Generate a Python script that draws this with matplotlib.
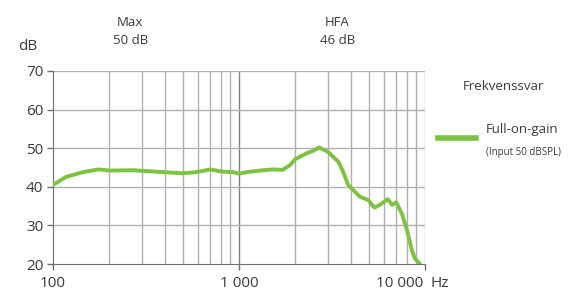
import numpy as np
import matplotlib
matplotlib.use("Agg")
import matplotlib.pyplot as plt
import matplotlib.transforms as mtransforms

# Frequency response (Hz, dB)
freq = [100, 118, 145, 175, 202, 269, 361, 500, 590, 700, 820, 930, 1000,
        1100, 1350, 1520, 1720, 1880, 2000, 2310, 2500, 2700, 3000, 3420,
        3630, 3860, 4200, 4470, 4940, 5350, 5700, 6300, 6670, 7000, 7500,
        8000, 8500, 8800, 9400]
gain = [40.5, 42.6, 43.8, 44.5, 44.2, 44.3, 43.9, 43.5, 43.8, 44.5, 43.9,
        43.8, 43.4, 43.8, 44.3, 44.5, 44.4, 45.6, 47.1, 48.7, 49.3, 50.2,
        49.1, 46.5, 43.9, 40.5, 38.7, 37.4, 36.6, 34.6, 35.3, 36.8, 35.3,
        36.0, 33.1, 28.8, 23.6, 21.5, 20.0]

yticks = [20, 30, 40, 50, 60, 70]
xticks = [100, 1000, 10000]
xticklabels = ["100", "1 000", "10 000"]
minor_x = [200, 300, 400, 500, 600, 700, 800, 900,
           2000, 3000, 4000, 5000, 6000, 7000, 8000, 9000]

# summary labels above the plot, placed at a frequency
summary_labels = ["Max\n50 dB", "HFA\n46 dB"]
summary_freq = [260, 3370]

green = "#7dc242"
txt = "#3a3a3a"
grid_c = "#b0b0b0"

plt.rcParams['font.family'] = ['Open Sans', 'DejaVu Sans']

fig = plt.figure(figsize=(5.7, 2.91), dpi=100)
ax = fig.add_axes([53 / 570, 27 / 291, 372 / 570, 193 / 291])

ax.set_xscale("log")
ax.set_xlim(100, 10000)
ax.set_ylim(20, 70)

# grid
for f in minor_x:
    ax.axvline(f, color=grid_c, lw=1.0, zorder=1)
ax.axvline(1000, color="#808080", lw=1.0, zorder=1)
ax.axvline(10000, color=grid_c, lw=1.0, zorder=1)
for y in yticks[1:]:
    ax.axhline(y, color=grid_c, lw=1.0, zorder=1)

ax.plot(freq, gain, color=green, lw=2.8, solid_capstyle="round", zorder=3)

for s in ["top", "right"]:
    ax.spines[s].set_visible(False)
for s in ["left", "bottom"]:
    ax.spines[s].set_color("#707070")

ax.set_yticks(yticks)
ax.set_yticklabels([str(v) for v in yticks])
ax.set_xticks(xticks)
ax.set_xticklabels([""] * len(xticks))
ax.xaxis.set_minor_locator(matplotlib.ticker.NullLocator())
ax.tick_params(axis="y", length=4, width=1, color="#707070", labelsize=11,
               labelcolor=txt, pad=3)
ax.tick_params(axis="x", length=4, width=1, color="#707070")

# x tick labels drawn by hand so the last one can sit left of the tick
trans = mtransforms.blended_transform_factory(ax.transData, ax.transAxes)
for f, lab in zip(xticks[:-1], xticklabels[:-1]):
    ax.text(f, -0.06, lab, transform=trans, ha="center", va="top",
            fontsize=11, color=txt)
ax.text(9750, -0.06, xticklabels[-1], transform=trans, ha="right", va="top",
        fontsize=11, color=txt)
ax.text(10700, -0.06, "Hz", transform=trans, ha="left", va="top",
        fontsize=11, color=txt)

fig.text(28 / 570, 1 - 46 / 291, "dB", ha="center", va="center",
         fontsize=11, color=txt)
for lab, f in zip(summary_labels, summary_freq):
    ax.text(f, 1.207, lab, transform=trans, ha="center", va="center",
            fontsize=9.5, color=txt, linespacing=1.5)

# legend
fig.text(503 / 570, 1 - 86 / 291, "Frekvenssvar", ha="center", va="center",
         fontsize=9.5, color=txt)
fig.add_artist(plt.Line2D([438 / 570, 476 / 570], [1 - 138 / 291, 1 - 138 / 291],
                          color=green, lw=4, transform=fig.transFigure))
fig.text(486 / 570, 1 - 130 / 291, "Full-on-gain", ha="left", va="center",
         fontsize=9.5, color=txt)
fig.text(486 / 570, 1 - 152 / 291, "(Input 50 dBSPL)", ha="left", va="center",
         fontsize=7, color=txt)

fig.savefig("out.png", dpi=100)
